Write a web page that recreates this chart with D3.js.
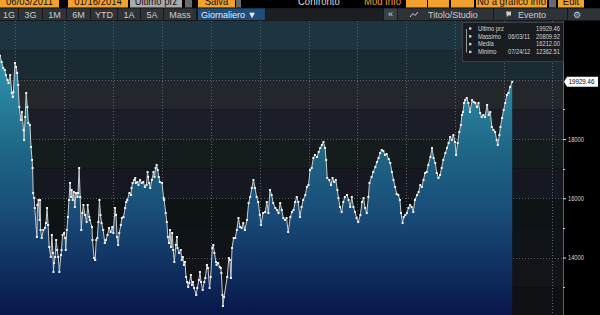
<!DOCTYPE html>
<html>
<head>
<meta charset="utf-8">
<script src="https://cdn.jsdelivr.net/npm/d3@7"></script>
<style>
body { margin: 0; background: #000; overflow: hidden; }
svg { display: block; font-family: "Liberation Sans Narrow", "Liberation Sans", "DejaVu Sans", sans-serif; }
</style>
</head>
<body>
<div id="chart"></div>
<script>
// FTSE MIB daily closes
var dates = [
  "2011-06-03","2011-06-06","2011-06-09","2011-06-12","2011-06-14","2011-06-17","2011-06-19","2011-06-22","2011-06-25","2011-06-27","2011-06-28",
  "2011-07-01","2011-07-03","2011-07-05","2011-07-07","2011-07-09","2011-07-12","2011-07-14","2011-07-17","2011-07-18","2011-07-20","2011-07-22","2011-07-24","2011-07-26","2011-07-29","2011-07-31",
  "2011-08-02","2011-08-03","2011-08-04","2011-08-06","2011-08-07","2011-08-11","2011-08-12","2011-08-14","2011-08-16","2011-08-17","2011-08-18","2011-08-20","2011-08-23","2011-08-26","2011-08-28","2011-08-30",
  "2011-09-01","2011-09-03","2011-09-06","2011-09-08","2011-09-10","2011-09-11","2011-09-12","2011-09-14","2011-09-16","2011-09-18","2011-09-20","2011-09-22","2011-09-25","2011-09-26","2011-09-28",
  "2011-10-01","2011-10-03","2011-10-04","2011-10-06","2011-10-08","2011-10-10","2011-10-12","2011-10-14","2011-10-15","2011-10-17","2011-10-19","2011-10-21","2011-10-23","2011-10-26","2011-10-27","2011-10-29","2011-10-31",
  "2011-11-02","2011-11-04","2011-11-06","2011-11-09","2011-11-12","2011-11-14","2011-11-17","2011-11-18","2011-11-22","2011-11-23","2011-11-26","2011-11-28","2011-11-30",
  "2011-12-02","2011-12-04","2011-12-06","2011-12-08","2011-12-10","2011-12-13","2011-12-16","2011-12-18","2011-12-21","2011-12-24","2011-12-27","2011-12-30",
  "2012-01-01","2012-01-04","2012-01-06","2012-01-08","2012-01-10","2012-01-12","2012-01-15","2012-01-17","2012-01-20","2012-01-23","2012-01-25","2012-01-27","2012-01-31",
  "2012-02-03","2012-02-04","2012-02-06","2012-02-09","2012-02-11","2012-02-12","2012-02-15","2012-02-17","2012-02-20","2012-02-23","2012-02-26","2012-02-29",
  "2012-03-03","2012-03-05","2012-03-06","2012-03-08","2012-03-10","2012-03-13","2012-03-16","2012-03-18","2012-03-20","2012-03-22","2012-03-24","2012-03-26","2012-03-28",
  "2012-04-01","2012-04-04","2012-04-05","2012-04-08","2012-04-10","2012-04-12","2012-04-14","2012-04-16","2012-04-18","2012-04-20","2012-04-22","2012-04-24","2012-04-27","2012-04-29","2012-04-30",
  "2012-05-03","2012-05-06","2012-05-08","2012-05-10","2012-05-12","2012-05-14","2012-05-16","2012-05-18","2012-05-20","2012-05-22","2012-05-25","2012-05-27","2012-05-29","2012-05-31",
  "2012-06-04","2012-06-06","2012-06-09","2012-06-11","2012-06-13","2012-06-16","2012-06-19","2012-06-21","2012-06-24","2012-06-26","2012-06-29",
  "2012-07-01","2012-07-04","2012-07-06","2012-07-08","2012-07-11","2012-07-12","2012-07-15","2012-07-18","2012-07-20","2012-07-21","2012-07-23","2012-07-24","2012-07-26",
  "2012-08-01","2012-08-04","2012-08-06","2012-08-08","2012-08-10","2012-08-13","2012-08-16","2012-08-19","2012-08-22","2012-08-25","2012-08-28","2012-08-31",
  "2012-09-03","2012-09-07","2012-09-10","2012-09-13","2012-09-16","2012-09-19","2012-09-22","2012-09-25","2012-09-28",
  "2012-10-01","2012-10-03","2012-10-07","2012-10-11","2012-10-14","2012-10-17","2012-10-20","2012-10-23","2012-10-26","2012-10-30",
  "2012-11-02","2012-11-05","2012-11-08","2012-11-11","2012-11-14","2012-11-17","2012-11-20","2012-11-23","2012-11-27","2012-11-30",
  "2012-12-03","2012-12-06","2012-12-09","2012-12-12","2012-12-15","2012-12-18","2012-12-21","2012-12-25","2012-12-28","2012-12-31",
  "2013-01-03","2013-01-06","2013-01-09","2013-01-12","2013-01-16","2013-01-19","2013-01-22","2013-01-25","2013-01-28","2013-01-31",
  "2013-02-02","2013-02-04","2013-02-08","2013-02-11","2013-02-14","2013-02-17","2013-02-20","2013-02-23","2013-02-25","2013-02-28",
  "2013-03-03","2013-03-06","2013-03-09","2013-03-13","2013-03-16","2013-03-19","2013-03-22","2013-03-25","2013-03-28","2013-03-31",
  "2013-04-03","2013-04-07","2013-04-10","2013-04-13","2013-04-16","2013-04-19","2013-04-22","2013-04-24","2013-04-28",
  "2013-05-01","2013-05-05","2013-05-08","2013-05-11","2013-05-14","2013-05-17","2013-05-20","2013-05-23","2013-05-26","2013-05-30",
  "2013-06-02","2013-06-05","2013-06-08","2013-06-11","2013-06-14","2013-06-17","2013-06-20","2013-06-22","2013-06-25","2013-06-27","2013-06-30",
  "2013-07-03","2013-07-06","2013-07-09","2013-07-12","2013-07-15","2013-07-18","2013-07-22","2013-07-25","2013-07-28","2013-07-31",
  "2013-08-03","2013-08-06","2013-08-09","2013-08-12","2013-08-16","2013-08-19","2013-08-22","2013-08-25","2013-08-28","2013-08-31",
  "2013-09-03","2013-09-06","2013-09-09","2013-09-13","2013-09-16","2013-09-19","2013-09-22","2013-09-25","2013-09-28",
  "2013-10-01","2013-10-03","2013-10-06","2013-10-09","2013-10-12","2013-10-14","2013-10-16","2013-10-18","2013-10-20","2013-10-23","2013-10-26","2013-10-29",
  "2013-11-02","2013-11-05","2013-11-08","2013-11-11","2013-11-14","2013-11-17","2013-11-20","2013-11-23","2013-11-26","2013-11-30",
  "2013-12-03","2013-12-06","2013-12-09","2013-12-12","2013-12-15","2013-12-18","2013-12-20","2013-12-23","2013-12-25","2013-12-28","2013-12-31",
  "2014-01-03","2014-01-06","2014-01-09","2014-01-12","2014-01-16"
]
var closes = [
  20810,20599,20397,20329,20160,19991,19890,20160,19553,19418,19586,
  20565,20430,20228,19823,19080,18641,18911,18304,17966,18743,19553,19080,18540,18473,17730,
  17291,17021,16177,16008,15671,14692,15772,15941,15266,15941,14928,14658,14928,14996,15164,15671,
  15097,14354,14017,14760,14152,13511,13814,14017,14591,14253,14017,13511,14084,14253,14760,
  14827,14658,14253,14928,15367,15941,16515,16042,16278,15941,16211,15705,16177,16042,16177,17021,16042,
  14928,15502,15772,15435,15198,15772,15367,15266,15030,14591,13983,13916,14591,
  14658,15198,15941,15435,15164,14928,14489,14591,14760,14996,14861,15030,
  14827,15671,15435,14692,14422,14827,15097,15333,15367,15671,15873,15941,16177,
  16110,16346,16515,16616,16684,16515,16549,16447,16616,16515,16549,16380,
  16447,16886,16717,16515,16346,16616,16886,16717,17021,17122,16954,16717,16549,
  16515,16008,15941,15502,15198,14692,14489,14928,14354,14827,14253,13848,14422,14692,14321,
  14152,14253,13916,14017,13747,13848,13342,13173,13004,13139,13409,13072,13173,12971,
  12734,12971,13241,13511,13173,12903,13173,13308,13747,13646,12971,
  13342,14321,14422,14152,13848,13747,13814,13679,13646,13477,12734,12363,12667,
  13342,13983,13916,13308,14321,14658,14658,14928,15333,15030,14996,15164,
  14928,15266,15839,16042,16346,16616,16346,16042,15873,
  15435,15097,15502,15536,15873,15502,16278,16110,15839,15671,
  15603,15502,15839,15603,15333,15266,15333,14861,15367,15536,
  15603,15873,16042,15873,15367,15705,15941,16110,16380,16447,
  16954,17021,17359,17460,17392,17561,17696,17797,17899,17696,
  17291,16684,16616,16447,16684,16549,16616,16278,16008,15705,
  15536,15873,16042,16110,15941,15705,16042,15705,15536,15333,
  15198,15435,15873,16008,15671,15502,16042,16515,16717,
  16886,17055,17224,17359,17527,17629,17595,17460,17494,17325,
  17190,16886,16616,16380,16144,16110,15941,15502,15164,15367,15435,
  15502,15671,15772,15705,15536,15941,16110,16211,16447,16380,
  16616,16852,16886,17122,17392,17696,17359,17190,16852,16684,
  16785,17021,17291,17527,17696,17865,18068,17966,18135,
  17899,17460,17865,18236,18473,18810,18911,19215,19316,19384,19215,18911,
  19316,19249,19215,19080,19215,18878,18743,18810,18743,19148,
  18810,18911,18405,18304,18236,17966,17797,18135,18405,18709,18979,
  19215,19485,19553,19755,19929.46
]

var majorTicks = [14000, 16000, 18000]
var gridValues = [14000, 16000, 18000, 20000]
var minorTicks = [13000, 15000, 17000, 19000]
var lastPrice = "19929.46"

var periodButtons = ["1G", "3G", "1M", "6M", "YTD", "1A", "5A", "Mass"]
var legendLabels = ["Ultimo prz", "Massimo", "Media", "Minimo"]
var legendDates = ["", "06/03/11", "", "07/24/12"]
var legendValues = ["19929.46", "20809.92", "16212.00", "12362.51"]

var W = 600, H = 315
var NARROW = 0.82   // the terminal font is condensed
var parse = d3.timeParse("%Y-%m-%d")
var data = dates.map(function(d, i) { return {date: parse(d), close: closes[i]} })

var svg = d3.select("#chart").append("svg").attr("width", W).attr("height", H)
svg.append("rect").attr("width", W).attr("height", H).attr("fill", "#000")

// text helper, sx squeezes the glyphs horizontally
function label(g, x, y, str, size, fill, anchor, sx) {
  return g.append("text")
    .attr("transform", "translate(" + x + "," + y + ") scale(" + (sx || NARROW) + ",1)")
    .attr("font-size", size).attr("fill", fill)
    .attr("text-anchor", anchor || "start")
    .text(str)
}

// plot frame: chart from y=21 to bottom, axis on the right at x=563
var plotTop = 21, plotBottom = H, plotRight = 563

var x = d3.scaleTime()
  .domain([new Date(2011, 5, 3), new Date(2014, 3, 21)])
  .range([0, plotRight])
var y = d3.scaleLinear()
  .domain([12000, 22000])
  .range([316.75, 20.5])

var defs = svg.append("defs")
defs.append("clipPath").attr("id", "plotclip")
  .append("rect").attr("x", 0).attr("y", plotTop).attr("width", plotRight).attr("height", plotBottom - plotTop)

var grad = defs.append("linearGradient").attr("id", "fillgrad")
  .attr("gradientUnits", "userSpaceOnUse")
  .attr("x1", 0).attr("x2", 0).attr("y1", 60).attr("y2", 315)
grad.append("stop").attr("offset", "0%").attr("stop-color", "#2f93ad")
grad.append("stop").attr("offset", "35%").attr("stop-color", "#1f6786")
grad.append("stop").attr("offset", "62%").attr("stop-color", "#184a77")
grad.append("stop").attr("offset", "100%").attr("stop-color", "#07174a")

var plot = svg.append("g").attr("clip-path", "url(#plotclip)")

// background bands, one per 1000 points
var bandColors = ["#0e1014", "#121418", "#101318", "#0e1416", "#151821", "#141c1e", "#1b1e27", "#23272a", "#1b2b33", "#1d3540"]
d3.range(12000, 22000, 1000).forEach(function(v, i) {
  plot.append("rect")
    .attr("x", 0).attr("width", plotRight)
    .attr("y", y(v + 1000)).attr("height", y(v) - y(v + 1000))
    .attr("fill", bandColors[i])
})

// dotted grid
plot.selectAll("line.vgrid")
  .data(x.ticks(d3.timeMonth.every(3)))
  .enter().append("line")
  .attr("class", "vgrid")
  .attr("x1", function(d) { return Math.round(x(d)) + 0.5 })
  .attr("x2", function(d) { return Math.round(x(d)) + 0.5 })
  .attr("y1", plotTop).attr("y2", plotBottom)
  .attr("stroke", "#56636c").attr("stroke-width", 1).attr("stroke-dasharray", "1,2")

plot.selectAll("line.hgrid")
  .data(gridValues)
  .enter().append("line")
  .attr("class", "hgrid")
  .attr("x1", 0).attr("x2", plotRight)
  .attr("y1", function(d) { return Math.round(y(d)) + 0.5 })
  .attr("y2", function(d) { return Math.round(y(d)) + 0.5 })
  .attr("stroke", "#56636c").attr("stroke-width", 1).attr("stroke-dasharray", "1,2")

// area + line
var area = d3.area()
  .x(function(d) { return x(d.date) })
  .y0(plotBottom)
  .y1(function(d) { return y(d.close) })
var line = d3.line()
  .x(function(d) { return x(d.date) })
  .y(function(d) { return y(d.close) })

plot.append("path").datum(data).attr("d", area).attr("fill", "url(#fillgrad)")
plot.append("path").datum(data).attr("d", line)
  .attr("fill", "none").attr("stroke", "#c9cdd0").attr("stroke-width", 1)

plot.selectAll("rect.pt")
  .data(data)
  .enter().append("rect")
  .attr("class", "pt")
  .attr("x", function(d) { return x(d.date) - 1 })
  .attr("y", function(d) { return y(d.close) - 1 })
  .attr("width", 2).attr("height", 2)
  .attr("fill", "#f2f2f2")

// right axis
var axisG = svg.append("g").attr("transform", "translate(" + plotRight + ",0)")
axisG.append("line").attr("x1", 0.5).attr("x2", 0.5).attr("y1", plotTop).attr("y2", plotBottom)
  .attr("stroke", "#5c6166")
var yAxis = d3.axisRight(y).tickValues(majorTicks).tickSize(3).tickPadding(2)
  .tickFormat(d3.format("d"))
axisG.append("g").call(yAxis)
  .call(function(g) {
    g.select(".domain").remove()
    g.selectAll(".tick line").attr("stroke", "#e0e0e0")
    g.selectAll(".tick text").attr("fill", "#d8d8d8").attr("font-size", 7)
      .attr("font-family", null)
      .attr("x", 5 / NARROW)
      .attr("transform", "scale(" + NARROW + ",1)")
  })
axisG.selectAll("line.minor")
  .data(minorTicks)
  .enter().append("line")
  .attr("x1", 0).attr("x2", 2)
  .attr("y1", function(d) { return Math.round(y(d)) + 0.5 })
  .attr("y2", function(d) { return Math.round(y(d)) + 0.5 })
  .attr("stroke", "#d0d0d0")

// last price tag
var lastY = y(closes[closes.length - 1])
svg.append("path")
  .attr("d", "M" + (plotRight + 1) + "," + lastY + "L" + (plotRight + 4) + "," + (lastY - 5) + "H598V" + (lastY + 5) + "H" + (plotRight + 4) + "Z")
  .attr("fill", "#fff")
label(svg, 581.5, lastY + 2.5, lastPrice, 7.5, "#000", "middle")

// legend box
var lg = svg.append("g")
lg.append("rect").attr("x", 462.5).attr("y", 22.5).attr("width", 101).attr("height", 39)
  .attr("fill", "#181c20").attr("stroke", "#3a4046")
lg.append("path").attr("d", "M466.5,29V52.5").attr("stroke", "#9a9a9a").attr("fill", "none")
legendLabels.forEach(function(lab, i) {
  var cy = 28.5 + i * 7.8
  lg.append("rect").attr("x", 469).attr("y", cy - 1.2).attr("width", 2.4).attr("height", 2.4).attr("fill", "#d0d0d0")
  label(lg, 478, cy + 2.3, lab, 7, "#d6d6d6")
  label(lg, 508, cy + 2.3, legendDates[i], 7, "#d6d6d6")
  label(lg, 560, cy + 2.3, legendValues[i], 7, "#d6d6d6", "end")
})

// ---- toolbar rows ----
var hdr = svg.append("g")
hdr.append("rect").attr("width", W).attr("height", 8).attr("fill", "#000")
var orange = "#f3a12e"
var topBoxes = [
  [0, 59, orange, "06/03/2011"], [68, 60, orange, "01/16/2014"], [130, 52, "#a9a9a9", "Ultimo prz"],
  [185, 7, "#6a6a6a", ""], [198, 37, orange, "Salva"], [236, 5, "#6a6a6a", ""],
  [406, 21, orange, ""], [428, 21, orange, ""], [451, 23, orange, ""],
  [476, 71, orange, "No a grafico info"], [549, 7, "#6a6a6a", ""], [558, 26, orange, "Edit"]
]
topBoxes.forEach(function(b) {
  hdr.append("rect").attr("x", b[0]).attr("y", 0).attr("width", b[1]).attr("height", 7.5).attr("fill", b[2])
  if (b[3]) label(hdr, b[0] + b[1] / 2, 5, b[3], 10, "#111", "middle", 0.95)
})
label(hdr, 298, 5, "Confronto", 10, "#ddd", "start", 0.95)
label(hdr, 364, 5, "Mod Info", 10, orange, "start", 0.95)

hdr.append("rect").attr("y", 8).attr("width", W).attr("height", 13).attr("fill", "#16191b")
var btnEdges = [0, 19, 43, 67, 91, 118, 141, 164, 197]
periodButtons.forEach(function(lab, i) {
  var x0 = btnEdges[i], x1 = btnEdges[i + 1] - 1
  hdr.append("rect").attr("x", x0).attr("y", 8.5).attr("width", x1 - x0).attr("height", 11.5).attr("fill", "#2e3337")
  label(hdr, (x0 + x1) / 2, 17.5, lab, 9, "#c9cccf", "middle", 1)
})
hdr.append("rect").attr("x", 198).attr("y", 8.5).attr("width", 67).attr("height", 11.5).attr("fill", "#1f4d7c")
label(hdr, 201, 17.5, "Giornaliero \u25BC", 9, "#e8eef4", "start", 1)
hdr.append("rect").attr("x", 266).attr("y", 8.5).attr("width", 117).attr("height", 11.5).attr("fill", "#1b1f22")
hdr.append("rect").attr("x", 384).attr("y", 8.5).attr("width", 13).attr("height", 11.5).attr("fill", "#3b4044")
label(hdr, 390.5, 17, "\u00AB", 9, "#ddd", "middle", 1)
hdr.append("rect").attr("x", 398).attr("y", 8.5).attr("width", 95).attr("height", 11.5).attr("fill", "#2e3337")
hdr.append("path").attr("d", "M410,17L413,13.5L415,15.5L418,12").attr("stroke", "#ccc").attr("fill", "none")
label(hdr, 428, 17.5, "Titolo/Studio", 9, "#c9cccf", "start", 1)
hdr.append("rect").attr("x", 494).attr("y", 8.5).attr("width", 73).attr("height", 11.5).attr("fill", "#2e3337")
hdr.append("path").attr("d", "M506,11.5H511V15.5H508L507,17.5Z").attr("fill", "#ccc")
label(hdr, 518, 17.5, "Evento", 9, "#c9cccf", "start", 1)
hdr.append("rect").attr("x", 568).attr("y", 8.5).attr("width", 32).attr("height", 11.5).attr("fill", "#2e3337")
label(hdr, 573, 17.5, "\u2699", 9, "#c9cccf", "start", 1)
</script>
</body>
</html>
